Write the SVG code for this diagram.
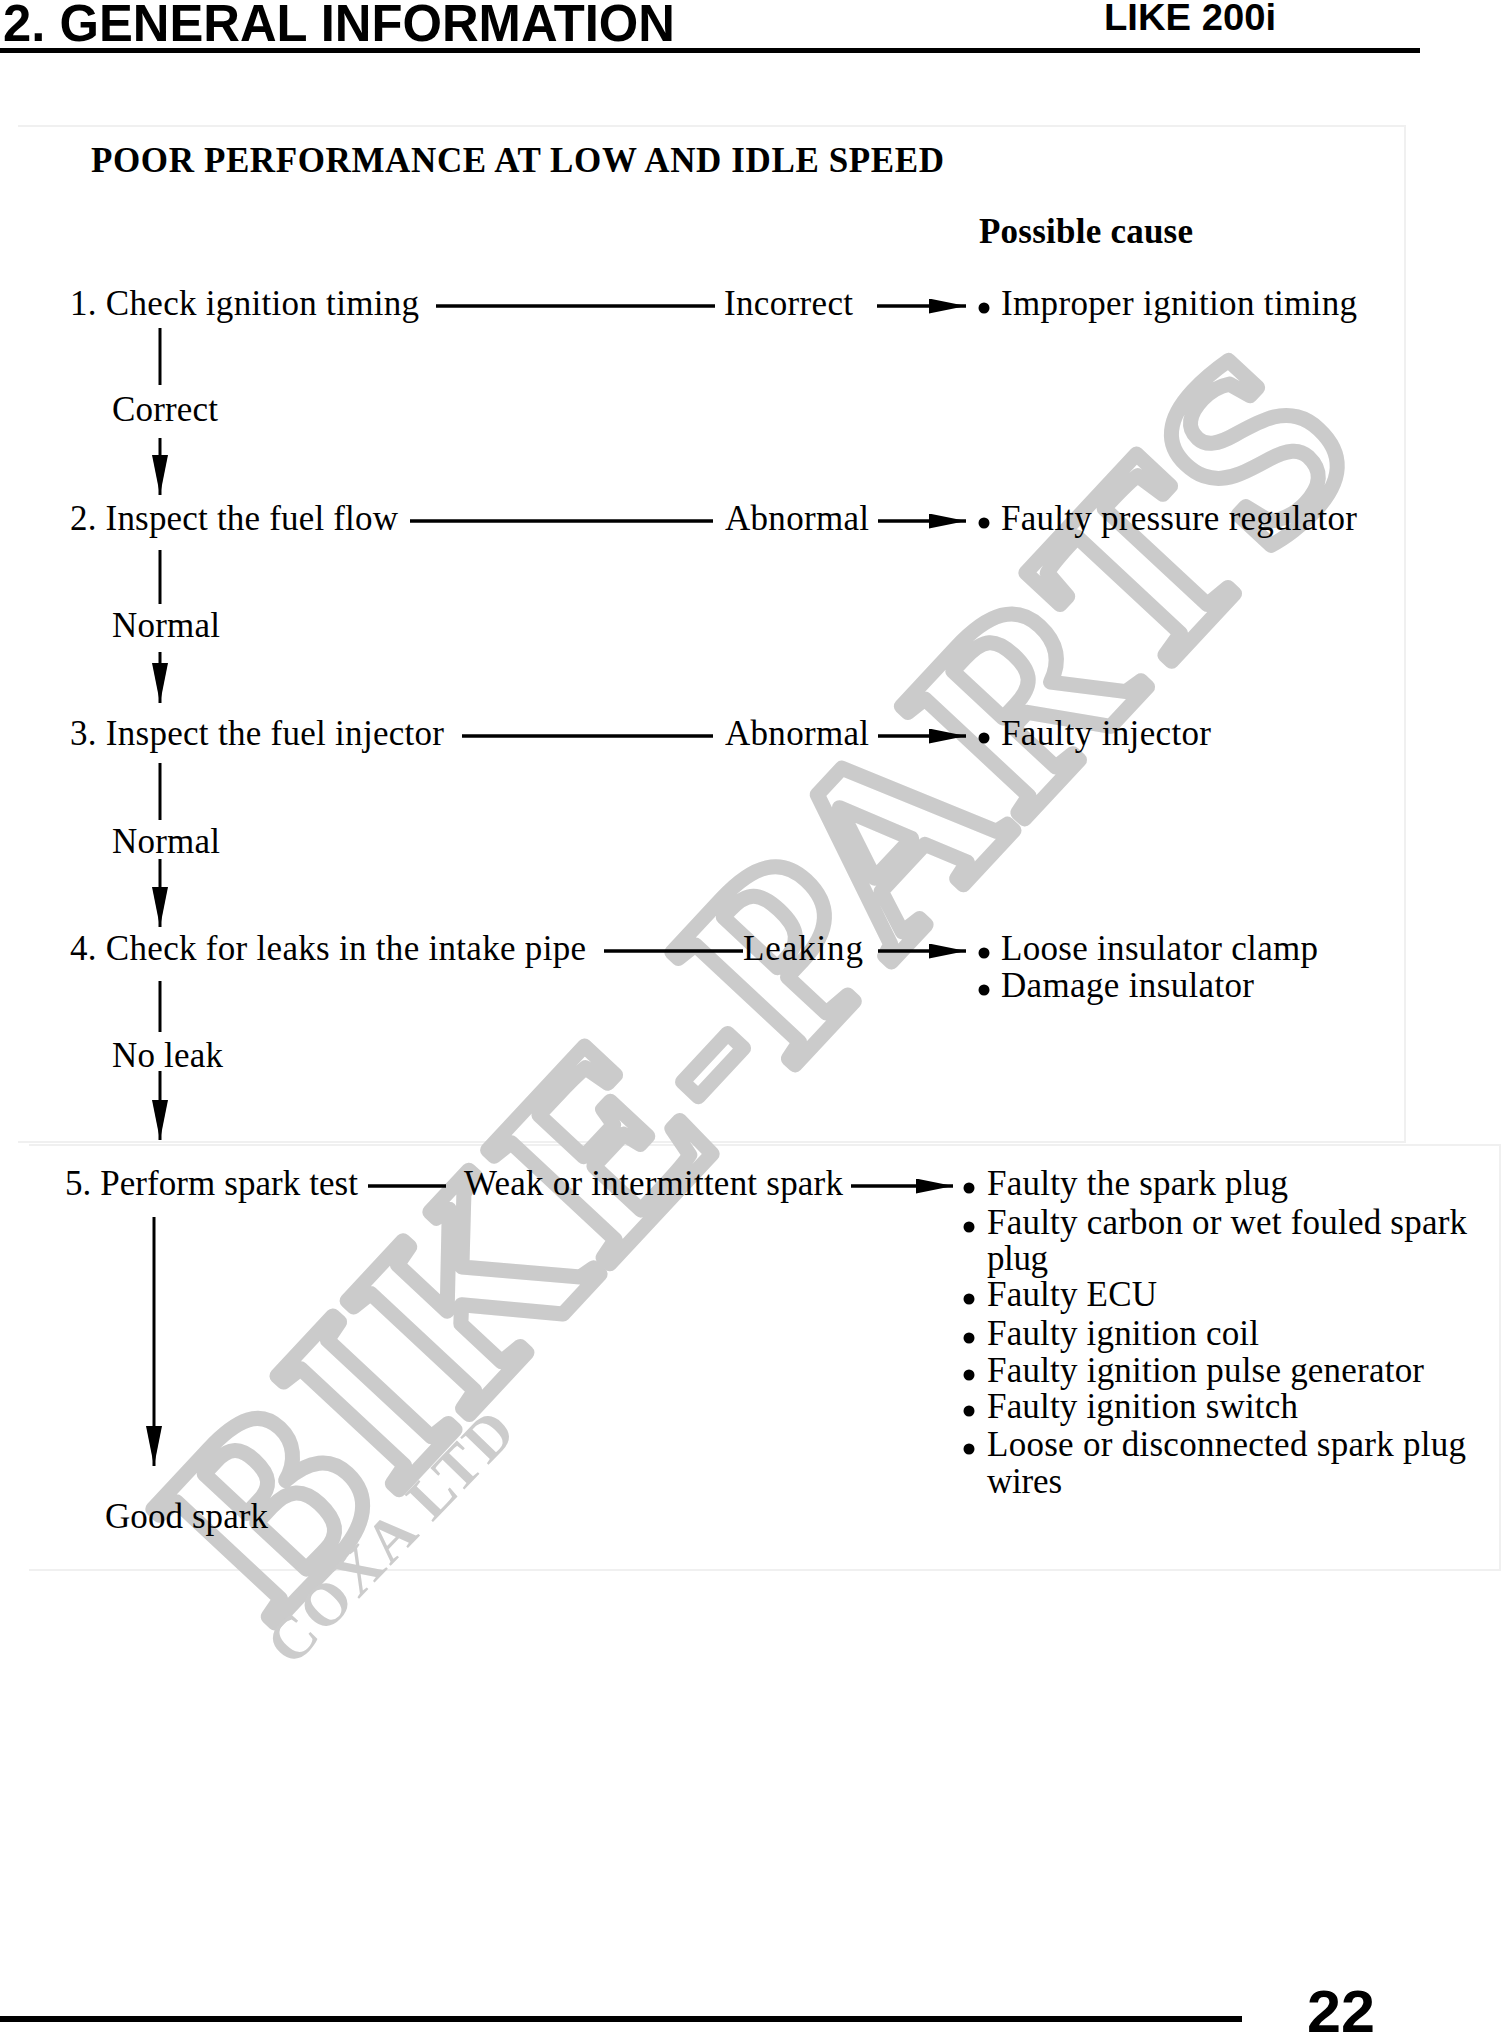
<svg xmlns="http://www.w3.org/2000/svg" width="1502" height="2034" viewBox="0 0 1502 2034">
<defs>
<style>
.t{font-family:"Liberation Serif","Times New Roman",serif;font-size:35px;fill:#000}
.b{font-weight:bold}
.h{font-family:"Liberation Sans",Arial,sans-serif;font-weight:bold;fill:#000}
.ln{stroke:#000;stroke-width:3.5;fill:none}
.vl{stroke:#000;stroke-width:3;fill:none}
.ha{stroke:#000;stroke-width:3.5;fill:none;marker-end:url(#ah)}
.va{stroke:#000;stroke-width:3;fill:none;marker-end:url(#av)}
.box{fill:none;stroke:#f0f0f0;stroke-width:2}
.wm{font-family:"Liberation Serif","Times New Roman",serif;font-weight:bold}
</style>
<marker id="ah" markerUnits="userSpaceOnUse" markerWidth="38" markerHeight="16" refX="37" refY="7.5" orient="auto">
<path d="M0,0 L37,7.5 L0,15 Z" fill="#000"/>
</marker>
<marker id="av" markerUnits="userSpaceOnUse" markerWidth="42" markerHeight="17" refX="40" refY="8" orient="auto">
<path d="M0,0 L40,8 L0,16 Z" fill="#000"/>
</marker>
</defs>
<rect width="1502" height="2034" fill="#fff"/>

<g id="page-header">
<text class="h" x="3" y="41" font-size="51" textLength="672" lengthAdjust="spacingAndGlyphs">2. GENERAL INFORMATION</text>
<text class="h" x="1104" y="30" font-size="36" textLength="172" lengthAdjust="spacingAndGlyphs">LIKE 200i</text>
<rect x="0" y="48" width="1420" height="5" fill="#000"/>
</g>

<g id="frame">
<path class="box" d="M18,126 H1405 V1142 H18"/>
<path class="box" d="M29,1145 H1500 V1570 H29"/>
</g>

<g id="watermark">
<text class="wm" transform="translate(272,1626) rotate(-47)" font-size="255" fill="none" stroke="#cbcbcb" stroke-width="15" stroke-linejoin="round" textLength="1600">BIKE-PARTS</text>
<text class="wm" transform="translate(292,1668) rotate(-46)" font-size="60" fill="#cccccc" textLength="325">COXA LTD</text>
</g>

<g id="title">
<text class="t b" x="91" y="172" textLength="853">POOR PERFORMANCE AT LOW AND IDLE SPEED</text>
<text class="t b" x="979" y="243" textLength="214">Possible cause</text>
</g>

<g id="connectors">
<line class="ln" x1="436" y1="306" x2="715" y2="306"/>
<line class="ha" x1="877" y1="306" x2="966" y2="306"/>
<line class="ln" x1="410" y1="521" x2="713" y2="521"/>
<line class="ha" x1="878" y1="521" x2="966" y2="521"/>
<line class="ln" x1="462" y1="736" x2="713" y2="736"/>
<line class="ha" x1="878" y1="736" x2="966" y2="736"/>
<line class="ln" x1="604" y1="951" x2="743" y2="951"/>
<line class="ha" x1="878" y1="951" x2="966" y2="951"/>
<line class="ln" x1="368" y1="1186" x2="446" y2="1186"/>
<line class="ha" x1="851" y1="1186" x2="953" y2="1186"/>

<line class="vl" x1="160" y1="328" x2="160" y2="385"/>
<line class="va" x1="160" y1="438" x2="160" y2="495"/>
<line class="vl" x1="160" y1="550" x2="160" y2="604"/>
<line class="va" x1="160" y1="652" x2="160" y2="703"/>
<line class="vl" x1="160" y1="763" x2="160" y2="820"/>
<line class="va" x1="160" y1="859" x2="160" y2="927"/>
<line class="vl" x1="160" y1="981" x2="160" y2="1032"/>
<line class="va" x1="160" y1="1071" x2="160" y2="1140"/>
<line class="va" x1="154" y1="1217" x2="154" y2="1466"/>
</g>

<g id="step1">
<text class="t" x="70" y="315" textLength="349">1. Check ignition timing</text>
</g>
<g id="result1">
<text class="t" x="724" y="315" textLength="129">Incorrect</text>
</g>
<g id="cause1">
<circle cx="984" cy="308" r="5.5"/>
<text class="t" x="1001" y="315" textLength="356">Improper ignition timing</text>
</g>
<g id="label1">
<text class="t" x="112" y="421" textLength="106">Correct</text>
</g>

<g id="step2">
<text class="t" x="70" y="530" textLength="328">2. Inspect the fuel flow</text>
</g>
<g id="result2">
<text class="t" x="725" y="530" textLength="144">Abnormal</text>
</g>
<g id="cause2">
<circle cx="984" cy="523" r="5.5"/>
<text class="t" x="1001" y="530" textLength="356">Faulty pressure regulator</text>
</g>
<g id="label2">
<text class="t" x="112" y="637" textLength="108">Normal</text>
</g>

<g id="step3">
<text class="t" x="70" y="745" textLength="374">3. Inspect the fuel injector</text>
</g>
<g id="result3">
<text class="t" x="725" y="745" textLength="144">Abnormal</text>
</g>
<g id="cause3">
<circle cx="984" cy="738" r="5.5"/>
<text class="t" x="1001" y="745" textLength="210">Faulty injector</text>
</g>
<g id="label3">
<text class="t" x="112" y="853" textLength="108">Normal</text>
</g>

<g id="step4">
<text class="t" x="70" y="960" textLength="516">4. Check for leaks in the intake pipe</text>
</g>
<g id="result4">
<text class="t" x="743" y="960" textLength="120">Leaking</text>
</g>
<g id="cause4">
<circle cx="984" cy="953" r="5.5"/>
<text class="t" x="1001" y="960" textLength="317">Loose insulator clamp</text>
<circle cx="984" cy="990" r="5.5"/>
<text class="t" x="1001" y="997" textLength="253">Damage insulator</text>
</g>
<g id="label4">
<text class="t" x="112" y="1067" textLength="111">No leak</text>
</g>

<g id="step5">
<text class="t" x="65" y="1195" textLength="293">5. Perform spark test</text>
</g>
<g id="result5">
<text class="t" x="464" y="1195" textLength="379">Weak or intermittent spark</text>
</g>
<g id="cause5">
<circle cx="969" cy="1188" r="5.5"/>
<text class="t" x="987" y="1195" textLength="301">Faulty the spark plug</text>
<circle cx="969" cy="1227" r="5.5"/>
<text class="t" x="987" y="1234" textLength="480">Faulty carbon or wet fouled spark</text>
<text class="t" x="987" y="1270" textLength="61">plug</text>
<circle cx="969" cy="1299" r="5.5"/>
<text class="t" x="987" y="1306" textLength="170">Faulty ECU</text>
<circle cx="969" cy="1338" r="5.5"/>
<text class="t" x="987" y="1345" textLength="272">Faulty ignition coil</text>
<circle cx="969" cy="1375" r="5.5"/>
<text class="t" x="987" y="1382" textLength="437">Faulty ignition pulse generator</text>
<circle cx="969" cy="1411" r="5.5"/>
<text class="t" x="987" y="1418" textLength="311">Faulty ignition switch</text>
<circle cx="969" cy="1449" r="5.5"/>
<text class="t" x="987" y="1456" textLength="479">Loose or disconnected spark plug</text>
<text class="t" x="987" y="1493" textLength="75">wires</text>
</g>
<g id="label5">
<text class="t" x="105" y="1528" textLength="163">Good spark</text>
</g>

<g id="page-footer">
<rect x="0" y="2016" width="1242" height="6" fill="#000"/>
<text class="h" x="1307" y="2032" font-size="60" textLength="68" lengthAdjust="spacingAndGlyphs">22</text>
</g>
</svg>
